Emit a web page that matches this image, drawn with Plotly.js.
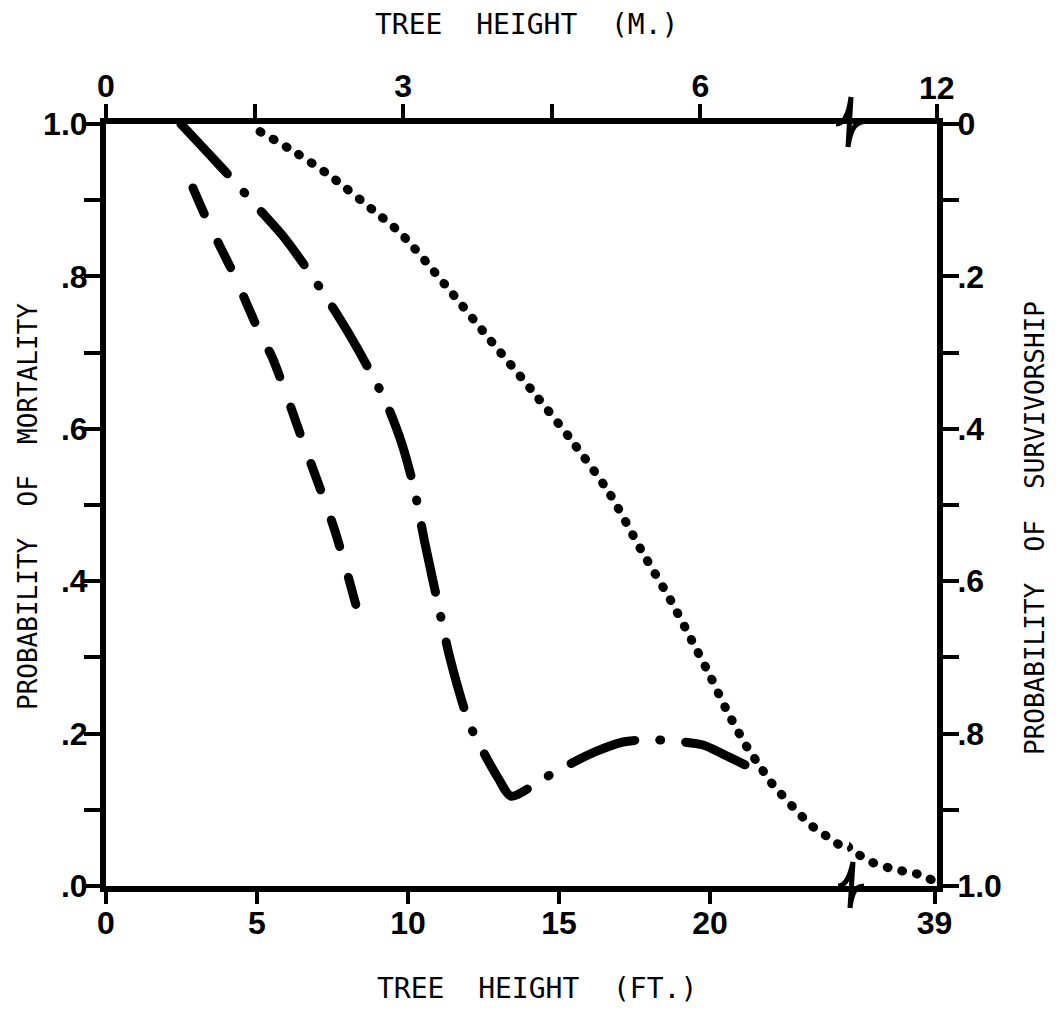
<!DOCTYPE html>
<html><head><meta charset="utf-8">
<script src="https://cdn.plot.ly/plotly-3.0.1.min.js"></script>
<style>
html,body{margin:0;padding:0;background:#fff;}
#chart{width:1064px;height:1010px;}
.js-line{stroke-linecap:round !important;stroke-linejoin:round !important;}
</style></head><body><div id="chart"></div>
<script>
// ---- data (tree height in feet, probability of mortality) ----
const dashedFt   = [2.88, 3.38, 4.24, 5.13, 5.50, 6.56, 7.58, 8.41];
const dashedProb = [0.916, 0.871, 0.802, 0.722, 0.694, 0.579, 0.466, 0.349];

const dashDotFt   = [2.48, 3.38, 4.17, 5.03, 5.86, 6.62, 7.35, 8.01, 8.68, 9.27, 9.80, 10.20, 10.56, 11.06, 11.39, 12.02, 12.48, 12.98, 13.41, 14.07, 14.54, 15.36, 16.19, 17.12, 17.95, 18.87, 19.77, 20.43, 21.16];
const dashDotProb = [1.000, 0.962, 0.928, 0.890, 0.853, 0.812, 0.769, 0.727, 0.680, 0.635, 0.580, 0.522, 0.450, 0.358, 0.299, 0.214, 0.177, 0.142, 0.118, 0.130, 0.142, 0.160, 0.176, 0.189, 0.192, 0.190, 0.185, 0.173, 0.159];

const dottedFt   = [5.10, 6.26, 7.42, 8.84, 9.77, 11.23, 12.65, 14.11, 15.43, 16.66, 17.72, 18.71, 19.40, 20.00, 20.56, 21.26, 21.66, 22.02, 23.34, 23.84, 24.40, 26.30, 28.51, 31.23, 33.44, 35.99, 38.54];
const dottedProb = [0.990, 0.963, 0.932, 0.887, 0.856, 0.789, 0.720, 0.650, 0.584, 0.516, 0.441, 0.374, 0.322, 0.276, 0.230, 0.180, 0.157, 0.136, 0.080, 0.066, 0.052, 0.041, 0.031, 0.024, 0.020, 0.016, 0.008];

// tick definitions
const ftTicks = [0, 5, 10, 15, 20];
const ftEndTick = [39];
const mTicks = [0, 1.5, 3, 4.5, 6];
const mTickText = ['0', '', '3', '', '6'];
const mEndTick = [12];
const probTicks = [0, 0.1, 0.2, 0.3, 0.4, 0.5, 0.6, 0.7, 0.8, 0.9, 1.0];
const mortText = ['.0', '', '.2', '', '.4', '', '.6', '', '.8', '', '1.0'];
const survText = ['0', '', '.2', '', '.4', '', '.6', '', '.8', '', '1.0'];

// ---- axis break geometry ----
const BREAK_FT = 24.6, END_FT = 39.4, FT_PER_M = 3.2808;
const W = 1064, H = 1010, L = 106, R = 127, T = 124, B = 124;
const plotW = W - L - R, plotH = H - T - B;
const split = (BREAK_FT * 30.2) / plotW;

// split dotted series at the break (each piece keeps one point across the break; clipped by the axes)
const mainIdx = [], endIdx = [];
dottedFt.forEach((x, i) => {
  if (x <= BREAK_FT || (i > 0 && dottedFt[i - 1] <= BREAK_FT)) mainIdx.push(i);
  if (x > BREAK_FT || (i < dottedFt.length - 1 && dottedFt[i + 1] > BREAK_FT)) endIdx.push(i);
});

const LW = 9;
const traces = [
  {x: dashedFt, y: dashedProb, xaxis: 'x', yaxis: 'y', mode: 'lines', name: 'dashed',
   line: {color: '#000', width: LW, dash: '28px,32px', shape: 'spline', smoothing: 0.8}},
  {x: dashDotFt, y: dashDotProb, xaxis: 'x', yaxis: 'y', mode: 'lines', name: 'dash-dot',
   line: {color: '#000', width: LW, dash: '68px,25px,1px,25px', shape: 'spline', smoothing: 0.8}},
  {x: mainIdx.map(i => dottedFt[i]), y: mainIdx.map(i => dottedProb[i]), xaxis: 'x', yaxis: 'y', mode: 'lines', name: 'dotted',
   line: {color: '#000', width: LW, dash: '1px,14px', shape: 'spline', smoothing: 0.8}},
  {x: endIdx.map(i => dottedFt[i]), y: endIdx.map(i => dottedProb[i]), xaxis: 'x2', yaxis: 'y', mode: 'lines', name: 'dotted (end)',
   line: {color: '#000', width: LW, dash: '1px,14px', shape: 'spline', smoothing: 0.8}},
  // empty traces so the metre (top) axes and the survivorship (right) axis get drawn
  {x: [], y: [], xaxis: 'x3', yaxis: 'y', mode: 'lines', hoverinfo: 'skip', showlegend: false},
  {x: [], y: [], xaxis: 'x4', yaxis: 'y', mode: 'lines', hoverinfo: 'skip', showlegend: false},
  {x: [], y: [], xaxis: 'x2', yaxis: 'y2', mode: 'lines', hoverinfo: 'skip', showlegend: false}
];

const tickFont = {family: 'Liberation Sans, Arial, sans-serif', size: 32, color: '#000', weight: 'bold'};
const titleFont = {family: 'DejaVu Sans Mono, monospace', size: 28, color: '#000'};
const sideTitleFont = {family: 'DejaVu Sans Mono, monospace', size: 26, color: '#000'};
const axBase = {showgrid: false, zeroline: false, showline: true, linecolor: '#000', linewidth: 6,
  ticks: 'outside', tickcolor: '#000', tickwidth: 4, tickfont: tickFont, fixedrange: true};

// helper: pixel -> paper (for decorations only)
const px = v => (v - L) / plotW, py = v => (H - B - v) / plotH;
function pathPx(pts) {
  return pts.map(p => {
    const nums = p.slice(1);
    let s = p[0] + ' ';
    for (let k = 0; k < nums.length; k += 2) s += px(nums[k]) + ',' + py(nums[k + 1]) + ' ';
    return s.trim();
  }).join(' ');
}
const topBreak = pathPx([['M', 836, 124], ['C', 845, 124, 849, 112, 851, 97], ['L', 848, 147], ['C', 851, 126, 856, 121, 870, 121]]);
const botBreak = pathPx([['M', 838, 886], ['C', 846, 886, 850, 876, 853, 862], ['L', 850, 908], ['C', 852, 892, 856, 886, 864, 886]]);

const nb = '\u00a0';
const layout = {
  width: W, height: H, margin: {l: L, r: R, t: T, b: B},
  paper_bgcolor: '#fff', plot_bgcolor: 'rgba(0,0,0,0)', showlegend: false,
  xaxis: Object.assign({}, axBase, {domain: [0, split], range: [0, BREAK_FT], anchor: 'y', side: 'bottom',
    tickvals: ftTicks, ticklen: 12, ticklabelstandoff: -8}),
  xaxis2: Object.assign({}, axBase, {domain: [split, 1], range: [BREAK_FT, END_FT], anchor: 'y', side: 'bottom',
    tickvals: ftEndTick, ticktext: ['39'], ticklen: 12, ticklabelstandoff: -8}),
  xaxis3: Object.assign({}, axBase, {overlaying: 'x', anchor: 'y', side: 'top', range: [0, BREAK_FT / FT_PER_M],
    tickvals: mTicks, ticktext: mTickText, ticklen: 14, ticklabelstandoff: -6}),
  xaxis4: Object.assign({}, axBase, {overlaying: 'x2', anchor: 'y', side: 'top', range: [BREAK_FT / FT_PER_M, END_FT / FT_PER_M],
    tickvals: mEndTick, ticktext: ['12'], ticklen: 14, ticklabelstandoff: -8}),
  yaxis: Object.assign({}, axBase, {domain: [0, 1], range: [0, 1], anchor: 'x', side: 'left',
    tickvals: probTicks, ticktext: mortText, ticklen: 16, ticklabelstandoff: -10}),
  yaxis2: Object.assign({}, axBase, {overlaying: 'y', anchor: 'x2', side: 'right', range: [1, 0],
    tickvals: probTicks, ticktext: survText, ticklen: 16, ticklabelstandoff: -8}),
  shapes: [
    {type: 'path', xref: 'paper', yref: 'paper', path: topBreak, line: {color: '#000', width: 5}, layer: 'above'},
    {type: 'path', xref: 'paper', yref: 'paper', path: botBreak, line: {color: '#000', width: 5}, layer: 'above'}
  ],
  annotations: [
    {xref: 'paper', yref: 'paper', x: px(537), y: py(988), text: 'TREE' + nb + nb + 'HEIGHT' + nb + nb + '(FT.)', showarrow: false, font: titleFont, xanchor: 'center', yanchor: 'middle'},
    {xref: 'paper', yref: 'paper', x: px(526), y: py(24), text: 'TREE' + nb + nb + 'HEIGHT' + nb + nb + '(M.)', showarrow: false, font: titleFont, xanchor: 'center', yanchor: 'middle'},
    {xref: 'paper', yref: 'paper', x: px(28), y: py(507), text: 'PROBABILITY' + nb + nb + 'OF' + nb + nb + 'MORTALITY', showarrow: false, font: sideTitleFont, textangle: -90, xanchor: 'center', yanchor: 'middle'},
    {xref: 'paper', yref: 'paper', x: px(1035), y: py(528), text: 'PROBABILITY' + nb + nb + 'OF' + nb + nb + 'SURVIVORSHIP', showarrow: false, font: sideTitleFont, textangle: -90, xanchor: 'center', yanchor: 'middle'}
  ]
};

Plotly.newPlot('chart', traces, layout, {staticPlot: true, displayModeBar: false});
</script></body></html>
